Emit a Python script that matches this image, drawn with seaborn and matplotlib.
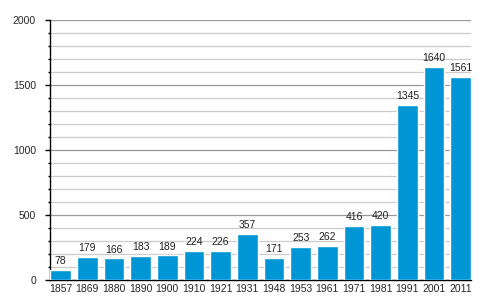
import matplotlib
matplotlib.use("Agg")
import matplotlib.pyplot as plt
import seaborn as sns
import pandas as pd
from matplotlib.ticker import MultipleLocator

years = ["1857", "1869", "1880", "1890", "1900", "1910", "1921", "1931", "1948",
         "1953", "1961", "1971", "1981", "1991", "2001", "2011"]
population = [78, 179, 166, 183, 189, 224, 226, 357, 171, 253, 262, 416, 420, 1345, 1640, 1561]

sns.set_style("white")
plt.rcParams['font.family'] = ['Liberation Sans', 'DejaVu Sans']

df = pd.DataFrame({"year": years, "pop": population})

fig = plt.figure(figsize=(5, 3), dpi=100)
ax = fig.add_axes([0.1, 0.0667, 0.842, 0.8667])
sns.barplot(data=df, x="year", y="pop", color="#0096d6", saturation=1, width=0.78, ax=ax, zorder=3)

ax.set_ylim(0, 2000)
ax.set_xlim(-0.40, len(years) - 0.61)
ax.yaxis.set_major_locator(MultipleLocator(500))
ax.yaxis.set_minor_locator(MultipleLocator(100))
ax.grid(axis="y", which="major", color="#999999", linewidth=0.9, zorder=0)
ax.grid(axis="y", which="minor", color="#cccccc", linewidth=0.9, zorder=0)
ax.set_axisbelow(True)

for s in ["top", "right"]:
    ax.spines[s].set_visible(False)
ax.spines["left"].set_color("black")
ax.spines["bottom"].set_color("black")
ax.spines["left"].set_linewidth(1)
ax.spines["bottom"].set_linewidth(1)

ax.tick_params(axis="y", which="major", length=3.6, width=1, color="black", labelsize=7.5, pad=6.5, left=True)
ax.tick_params(axis="y", which="minor", length=1.7, width=1, color="black", left=True)
ax.tick_params(axis="x", length=0, labelsize=7.5, pad=3)
ax.set_xlabel("")
ax.set_ylabel("")

for i, v in enumerate(population):
    ax.text(i, v + 30, str(v), ha="center", va="bottom", fontsize=7.5, color="#222222")

fig.savefig("out.png", dpi=100)
